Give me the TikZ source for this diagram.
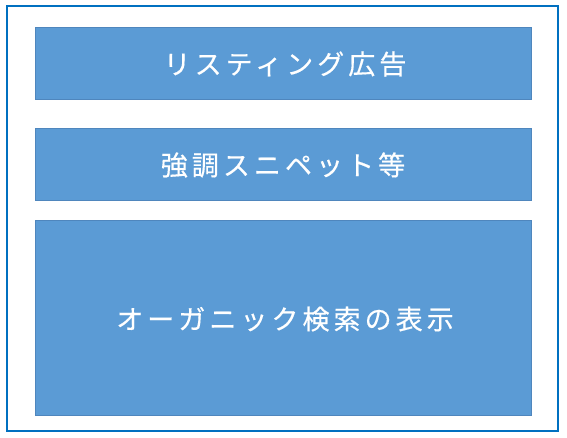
\documentclass[tikz,border=0pt]{standalone}
\usepackage{fontspec}
\newfontfamily\jpfont[LetterSpace=15,FakeBold=0.4]{Noto Sans CJK JP}
\definecolor{outerblue}{HTML}{0070C0}
\definecolor{boxfill}{HTML}{5B9BD5}
\definecolor{boxline}{HTML}{4F86BD}
\tikzset{
  panel/.style={draw=boxline, line width=0.8pt, fill=boxfill},
  label/.style={text=white, font=\jpfont\fontsize{27}{32}\selectfont, inner sep=0pt},
  frame/.style={draw=outerblue, line width=2.4pt}
}
\begin{document}
\begin{tikzpicture}[x=1pt,y=-1pt]
\useasboundingbox (0,0) rectangle (567,437);
\draw[frame] (7,6) rectangle (558,431);
\draw[panel] (35,27) rectangle (531,99) coordinate (b1);
\draw[panel] (35,128) rectangle (531,200) coordinate (b2);
\draw[panel] (35,220) rectangle (531,415) coordinate (b3);
\node[label] (t1) at (285,64) {リスティング広告};
\node[label] (t2) at (283,165) {強調スニペット等};
\node[label] (t3) at (285,319) {オーガニック検索の表示};
\end{tikzpicture}
\end{document}
